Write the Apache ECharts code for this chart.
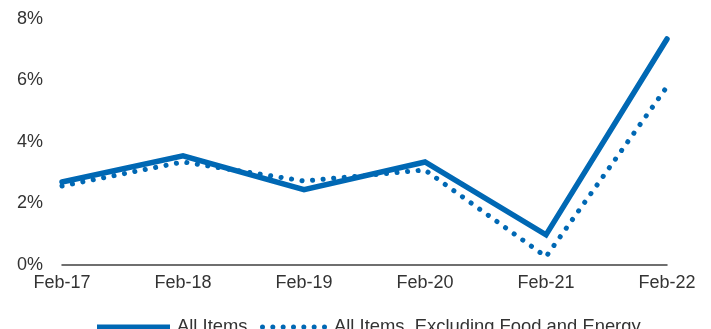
<!DOCTYPE html>
<html><head><meta charset="utf-8">
<script src="https://cdn.jsdelivr.net/npm/echarts@6/dist/echarts.min.js"></script>
<style>html,body{margin:0;padding:0;background:#fff}#c{width:711px;height:329px}</style>
</head><body><div id="c"></div>
<script>
const categories = ['Feb-17','Feb-18','Feb-19','Feb-20','Feb-21','Feb-22'];
const allItems = [2.7, 3.55, 2.45, 3.35, 0.98, 7.35];
const coreItems = [2.57, 3.35, 2.73, 3.09, 0.27, 5.8];
const yTicks = [0, 2, 4, 6, 8];
const seriesNames = ['All Items', 'All Items, Excluding Food and Energy'];

const blue = '#0068b4';
function dotsPath(n, w, r) {
  let p = '';
  const step = (w - 2 * r) / (n - 1);
  for (let i = 0; i < n; i++) {
    const cx = r + step * i;
    p += 'M' + (cx - r) + ',' + r + 'A' + r + ',' + r + ',0,1,0,' + (cx + r) + ',' + r + 'A' + r + ',' + r + ',0,1,0,' + (cx - r) + ',' + r + 'Z';
  }
  return 'path://' + p;
}
const legText = {fontSize: 18.4, color: '#333', lineHeight: 18, padding: [0, 0, 0, 2]};
const chart = echarts.init(document.getElementById('c'));
chart.setOption({
  animation: false,
  textStyle: {fontFamily: 'Liberation Sans, Arial, sans-serif'},
  grid: {left: 62, right: 44, top: 19, bottom: 64},
  legend: [
    {id: 'l1', left: 97, top: 318, padding: 0, itemWidth: 73, itemHeight: 5, textStyle: legText,
     data: [{name: seriesNames[0], icon: 'path://M0,0H73V5H0Z', itemStyle: {color: blue}}]},
    {id: 'l2', left: 260, top: 318, padding: 0, itemWidth: 67, itemHeight: 5, textStyle: legText,
     data: [{name: seriesNames[1], icon: dotsPath(7, 67, 2.5), itemStyle: {color: blue}}]}
  ],
  xAxis: {
    type: 'category', data: categories, boundaryGap: false,
    axisLine: {lineStyle: {color: '#404040', width: 1.5}},
    axisTick: {show: false},
    axisLabel: {fontSize: 18, color: '#333', margin: 9}
  },
  yAxis: {
    type: 'value', min: yTicks[0], max: yTicks[yTicks.length-1], interval: 2,
    axisLine: {show: false}, axisTick: {show: false}, splitLine: {show: false},
    axisLabel: {fontSize: 18, color: '#333', margin: 19, formatter: v => v + '%'}
  },
  series: [
    {name: seriesNames[0], type: 'line', data: allItems, symbol: 'none',
     lineStyle: {color: blue, width: 5.5, cap: 'round', join: 'miter'}, itemStyle: {color: blue}, z: 3},
    {name: seriesNames[1], type: 'line', data: coreItems, symbol: 'none',
     lineStyle: {color: blue, width: 5, type: [0.1, 10.5], cap: 'round'}, itemStyle: {color: blue}, z: 2}
  ]
});
</script></body></html>
